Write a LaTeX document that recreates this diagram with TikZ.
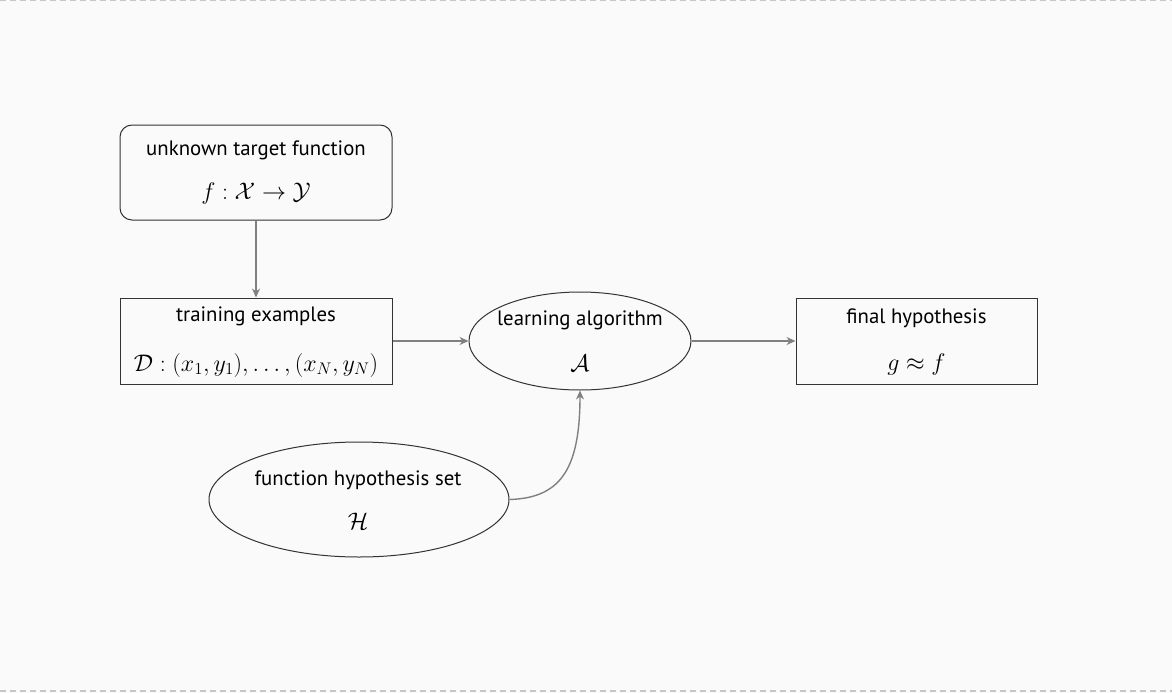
\documentclass[tikz,border=0pt]{standalone}
\usepackage{fix-cm}
\usepackage{fontspec}
\setmainfont{PT Sans}
\usetikzlibrary{shapes.geometric,arrows.meta}
\begin{document}
\begin{tikzpicture}[x=1pt,y=-1pt,
  box/.style={draw=black!80,line width=1pt,inner sep=0pt},
  rbox/.style={box,rounded corners=12pt},
  ell/.style={draw=black!80,line width=1pt,ellipse,inner sep=0pt},
  lbl/.style={anchor=base,inner sep=0pt,font=\fontsize{20.8}{24}\selectfont},
  mth/.style={anchor=base,inner sep=0pt,font=\fontsize{24}{28}\selectfont},
  arr/.style={draw=black!50,line width=1.4pt,-{Stealth[length=9pt,width=8pt]}}]
\useasboundingbox (0,0) rectangle (1172,693);
\fill[black!2] (0,0) rectangle (1172,693);
\draw[black!22,line width=1.2pt,dash pattern=on 6pt off 4pt] (0,0.6) -- (1172,0.6);
\draw[black!22,line width=1.2pt,dash pattern=on 6pt off 4pt] (0,691) -- (1172,691);
% shapes
\node[rbox,minimum width=272pt,minimum height=95pt] (target) at (256,172.5) {};
\node[box,minimum width=272pt,minimum height=86pt] (train) at (256,341) {};
\node[ell,minimum width=222pt,minimum height=98pt] (learn) at (580,341) {};
\node[box,minimum width=241pt,minimum height=86pt] (final) at (916.5,341) {};
\node[ell,minimum width=300pt,minimum height=115pt] (hset) at (359,499.5) {};
% texts
\node[lbl] (targetT) at (256,155) {unknown target function};
\node[mth] (targetM) at (256,199) {$f:\mathcal{X}\to\mathcal{Y}$};
\node[lbl] (trainT) at (256,321) {training examples};
\node[mth] (trainM) at (256,371) {$\mathcal{D}:(x_1,y_1),\ldots,(x_N,y_N)$};
\node[lbl] (learnT) at (580,325) {learning algorithm};
\node[mth] (learnM) at (580,371) {$\mathcal{A}$};
\node[lbl] (finalT) at (916.5,323) {final hypothesis};
\node[mth] (finalM) at (916.5,370) {$g\approx f$};
\node[lbl] (hsetT) at (358,485) {function hypothesis set};
\node[mth] (hsetM) at (358,529) {$\mathcal{H}$};
% arrows
\draw[arr] (target.south) -- (train.north);
\draw[arr] (train.east) -- (learn.west);
\draw[arr] (learn.east) -- (final.west);
\draw[arr] (hset.east) .. controls (560,498) and (580,470) .. (learn.south);
\end{tikzpicture}
\end{document}
